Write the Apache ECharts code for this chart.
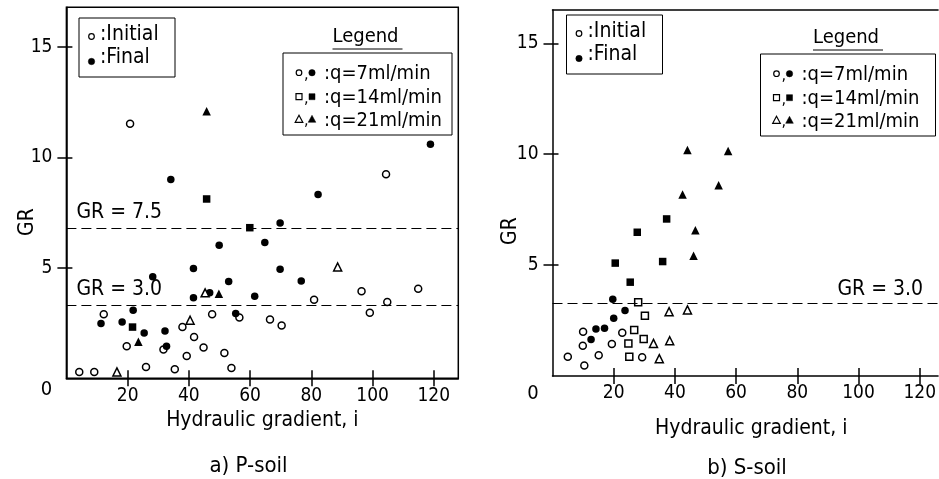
<!DOCTYPE html>
<html><head><meta charset="utf-8">
<script src="https://cdn.jsdelivr.net/npm/echarts@6/dist/echarts.min.js"></script>
<style>html,body{margin:0;padding:0;background:#fff}#c{width:939px;height:479px}</style>
</head><body><div id="c"></div>
<script>
// ---------- data ----------
const xTicks = [20, 40, 60, 80, 100, 120];
const yTicks = [5, 10, 15];

// a) P-soil
const pQ7Initial = [[20.8,11.53],[104.4,9.24],[12.2,2.9],[19.7,1.45],[31.7,1.3],[37.9,2.32],[41.7,1.87],[39.3,1.01],[44.8,1.39],[47.6,2.9],[51.6,1.15],[56.5,2.75],[53.9,0.47],[26.0,0.51],[35.4,0.41],[4.2,0.29],[9.1,0.29],[80.9,3.56],[96.4,3.94],[114.9,4.06],[104.8,3.46],[99.1,2.97],[66.5,2.66],[70.3,2.39]];
const pQ7Final = [[34.1,9.0],[82.2,8.32],[118.9,10.6],[69.8,7.03],[49.9,6.02],[64.8,6.15],[28.2,4.6],[41.5,4.97],[53.0,4.38],[61.5,3.72],[41.5,3.65],[46.8,3.87],[11.3,2.48],[18.2,2.55],[21.8,3.08],[25.4,2.05],[32.2,2.14],[32.7,1.45],[55.3,2.93],[69.8,4.94],[76.7,4.41]];
const pQ14Initial = [];
const pQ14Final = [[45.8,8.12],[59.9,6.82],[21.6,2.32]];
const pQ21Initial = [[45.3,3.87],[40.4,2.63],[16.5,0.29],[88.6,5.04]];
const pQ21Final = [[45.8,12.09],[49.8,3.83],[23.5,1.65]];
const pThresholds = [6.8, 3.32];
const pThresholdLabels = ['GR = 7.5', 'GR = 3.0'];

// b) S-soil
const sQ7Initial = [[10.0,2.0],[22.8,1.95],[9.9,1.36],[19.4,1.44],[5.0,0.87],[15.1,0.94],[10.4,0.47],[29.3,0.84]];
const sQ7Final = [[19.7,3.46],[23.7,2.95],[20.0,2.6],[14.2,2.12],[17.0,2.15],[12.6,1.65]];
const sQ14Initial = [[28.0,3.32],[30.2,2.72],[26.7,2.07],[24.8,1.47],[29.8,1.67],[25.1,0.87]];
const sQ14Final = [[20.5,5.09],[36.0,5.16],[25.4,4.23],[37.3,7.08],[27.7,6.48]];
const sQ21Initial = [[38.1,2.9],[44.1,2.98],[33.0,1.47],[38.3,1.59],[34.9,0.78]];
const sQ21Final = [[46.1,5.42],[44.1,10.19],[57.4,10.14],[54.3,8.6],[42.5,8.18],[46.7,6.57]];
const sThresholds = [3.30];
const sThresholdLabels = ['GR = 3.0'];

const xName = 'Hydraulic gradient, i';
const yName = 'GR';
const captions = ['a) P-soil', 'b) S-soil'];
const legendStateLabels = [':Initial', ':Final'];
const legendFlowLabels = [':q=7ml/min', ':q=14ml/min', ':q=21ml/min'];
const legendTitle = 'Legend';

// ---------- styles ----------
const NARROW = '"Liberation Sans Narrow","DejaVu Sans Condensed",sans-serif';
const COND = '"DejaVu Sans Condensed","Liberation Sans Narrow",sans-serif';
const BLACK = '#000';

function mainX(gi, max, gap, padLeft) {
  return {
    gridIndex: gi, type: 'value', min: 0, max: max, interval: 20, position: 'bottom',
    axisLine: {show: true, onZero: false, lineStyle: {color: BLACK, width: 1.5}},
    axisTick: {show: true, inside: false, length: 8, customValues: xTicks, lineStyle: {color: BLACK, width: 1.5}},
    axisLabel: {show: true, customValues: xTicks, margin: 8, color: BLACK, fontFamily: NARROW, fontSize: 19},
    splitLine: {show: false},
    name: xName, nameLocation: 'middle', nameGap: gap,
    nameTextStyle: {color: BLACK, fontFamily: COND, fontSize: 21, padding: [0, 0, 0, padLeft]}
  };
}
function innerX(gi, max) {
  return {
    gridIndex: gi, type: 'value', min: 0, max: max, interval: 20, position: 'bottom',
    axisLine: {show: false, onZero: false},
    axisTick: {show: true, inside: true, length: 8, customValues: xTicks, lineStyle: {color: BLACK, width: 1.5}},
    axisLabel: {show: false, customValues: xTicks}, splitLine: {show: false}
  };
}
function mainY(gi, max) {
  return {
    gridIndex: gi, type: 'value', min: 0, max: max, interval: 5, position: 'left',
    axisLine: {show: true, onZero: false, lineStyle: {color: BLACK, width: 1.5}},
    axisTick: {show: true, inside: false, length: 9, customValues: yTicks, lineStyle: {color: BLACK, width: 1.5}},
    axisLabel: {show: true, customValues: yTicks, margin: 14, color: BLACK, fontFamily: NARROW, fontSize: 19},
    splitLine: {show: false}
  };
}
function innerY(gi, max) {
  return {
    gridIndex: gi, type: 'value', min: 0, max: max, interval: 5, position: 'left',
    axisLine: {show: false, onZero: false},
    axisTick: {show: true, inside: true, length: 6, customValues: yTicks, lineStyle: {color: BLACK, width: 1.5}},
    axisLabel: {show: false, customValues: yTicks}, splitLine: {show: false}
  };
}

function sc(name, data, xi, yi, symbol, filled, size) {
  return {
    name: name, type: 'scatter', xAxisIndex: xi, yAxisIndex: yi, data: data,
    symbol: symbol, symbolSize: size, silent: true,
    itemStyle: filled ? {color: BLACK, borderWidth: 0, opacity: 1}
                      : {color: '#fff', borderColor: BLACK, borderWidth: 1.5, opacity: 1}
  };
}
function thresholdLine(values, labels, position, dist) {
  return {
    silent: true, symbol: ['none', 'none'],
    lineStyle: {color: BLACK, type: [10, 5], width: 1},
    label: {show: true, position: position, distance: dist, color: BLACK, fontFamily: NARROW, fontSize: 21},
    data: values.map((v, i) => ({yAxis: v, label: {formatter: labels[i]}}))
  };
}

// legend graphics (key boxes, not data marks)
function marker(kind, filled, cx, cy) {
  const st = filled ? {fill: BLACK, stroke: BLACK, lineWidth: 0.5} : {fill: '#fff', stroke: BLACK, lineWidth: 1.2};
  if (kind === 'circle') return {type: 'circle', shape: {cx: cx, cy: cy, r: filled ? 3.2 : 2.8}, style: st};
  if (kind === 'rect') return {type: 'rect', shape: {x: cx - 3, y: cy - 3, width: 6, height: 6}, style: st};
  return {type: 'polygon', shape: {points: [[cx, cy - 4], [cx + 3.8, cy + 3], [cx - 3.8, cy + 3]]}, style: st};
}
function keyGraphics(bx, by, lx, ly, lw) {
  const g = [];
  g.push({type: 'rect', shape: {x: bx, y: by, width: 96, height: 59}, style: {fill: 'none', stroke: BLACK, lineWidth: 1}});
  g.push(marker('circle', false, bx + 12.5, by + 18.5));
  g.push({type: 'text', x: bx + 21, y: by + 17, style: {text: legendStateLabels[0], font: '21px ' + COND, fill: BLACK, verticalAlign: 'middle'}});
  g.push(marker('circle', true, bx + 12.5, by + 43.5));
  g.push({type: 'text', x: bx + 21, y: by + 40, style: {text: legendStateLabels[1], font: '21px ' + COND, fill: BLACK, verticalAlign: 'middle'}});
  const cxm = lx + lw / 2;
  g.push({type: 'text', x: cxm - 2, y: ly - 16, style: {text: legendTitle, font: '20px ' + COND, fill: BLACK, align: 'center', verticalAlign: 'middle'}});
  g.push({type: 'line', shape: {x1: cxm - 35, y1: ly - 4, x2: cxm + 35, y2: ly - 4}, style: {stroke: BLACK, lineWidth: 1}});
  g.push({type: 'rect', shape: {x: lx, y: ly, width: lw, height: 82}, style: {fill: 'none', stroke: BLACK, lineWidth: 1}});
  const kinds = ['circle', 'rect', 'triangle'];
  const rows = [19.7, 43.7, 66.3];
  kinds.forEach((k, i) => {
    const cy = ly + rows[i];
    g.push(marker(k, false, lx + 16, cy));
    g.push({type: 'text', x: lx + 21, y: cy + 2, style: {text: ',', font: '16px ' + COND, fill: BLACK, verticalAlign: 'middle'}});
    g.push(marker(k, true, lx + 29, cy));
    g.push({type: 'text', x: lx + 41, y: cy + 1, style: {text: legendFlowLabels[i], font: '20px ' + COND, fill: BLACK, verticalAlign: 'middle'}});
  });
  return g;
}
function txt(t, x, y, font, rot) {
  return {type: 'text', x: x, y: y, rotation: rot || 0, style: {text: t, font: font, fill: BLACK, align: 'center', verticalAlign: 'middle'}};
}

const chart = echarts.init(document.getElementById('c'), null, {renderer: 'canvas'});
const pl = sc('P q7 initial', pQ7Initial, 0, 0, 'circle', false, 7);
pl.markLine = thresholdLine(pThresholds, pThresholdLabels, 'insideStartTop', [10, 5]);
const sl = sc('S q7 initial', sQ7Initial, 2, 2, 'circle', false, 7);
sl.markLine = thresholdLine(sThresholds, sThresholdLabels, 'insideEndTop', [15, 3]);

const option = {
  animation: false,
  backgroundColor: '#fff',
  grid: [
    {left: 66.4, top: 7.3, width: 391.9, height: 371, show: true, borderColor: BLACK, borderWidth: 1.5, backgroundColor: 'transparent'},
    {left: 552.5, top: 10, width: 386.5, height: 366}
  ],
  xAxis: [
    mainX(0, 128, 32, 0), innerX(0, 128),
    mainX(1, 126, 42, 12), innerX(1, 126),
    {gridIndex: 1, type: 'value', min: 0, max: 126, position: 'top',
     axisLine: {show: true, onZero: false, lineStyle: {color: BLACK, width: 1.5}},
     axisTick: {show: false}, axisLabel: {show: false}, splitLine: {show: false}}
  ],
  yAxis: [mainY(0, 16.8), innerY(0, 16.8), mainY(1, 16.5), innerY(1, 16.5)],
  series: [
    pl,
    sc('P q7 final', pQ7Final, 0, 0, 'circle', true, 7.5),
    sc('P q14 initial', pQ14Initial, 0, 0, 'rect', false, 7),
    sc('P q14 final', pQ14Final, 0, 0, 'rect', true, 7.5),
    sc('P q21 initial', pQ21Initial, 0, 0, 'triangle', false, 8),
    sc('P q21 final', pQ21Final, 0, 0, 'triangle', true, 8.5),
    sl,
    sc('S q7 final', sQ7Final, 2, 2, 'circle', true, 7.5),
    sc('S q14 initial', sQ14Initial, 2, 2, 'rect', false, 7),
    sc('S q14 final', sQ14Final, 2, 2, 'rect', true, 7.5),
    sc('S q21 initial', sQ21Initial, 2, 2, 'triangle', false, 8),
    sc('S q21 final', sQ21Final, 2, 2, 'triangle', true, 8.5)
  ],
  graphic: [].concat(
    keyGraphics(79, 18, 283, 53, 169),
    keyGraphics(566.5, 15, 760.5, 54, 175),
    [
      txt('0', 46.5, 390, '20px ' + NARROW),
      txt('0', 533, 394, '20px ' + NARROW),
      txt(yName, 28, 222, '21px ' + NARROW, Math.PI / 2),
      txt(yName, 511, 231, '21px ' + NARROW, Math.PI / 2),
      txt(captions[0], 248.5, 466, '22px ' + COND),
      txt(captions[1], 747, 468, '22px ' + COND)
    ]
  )
};
chart.setOption(option);
</script>
</body></html>
